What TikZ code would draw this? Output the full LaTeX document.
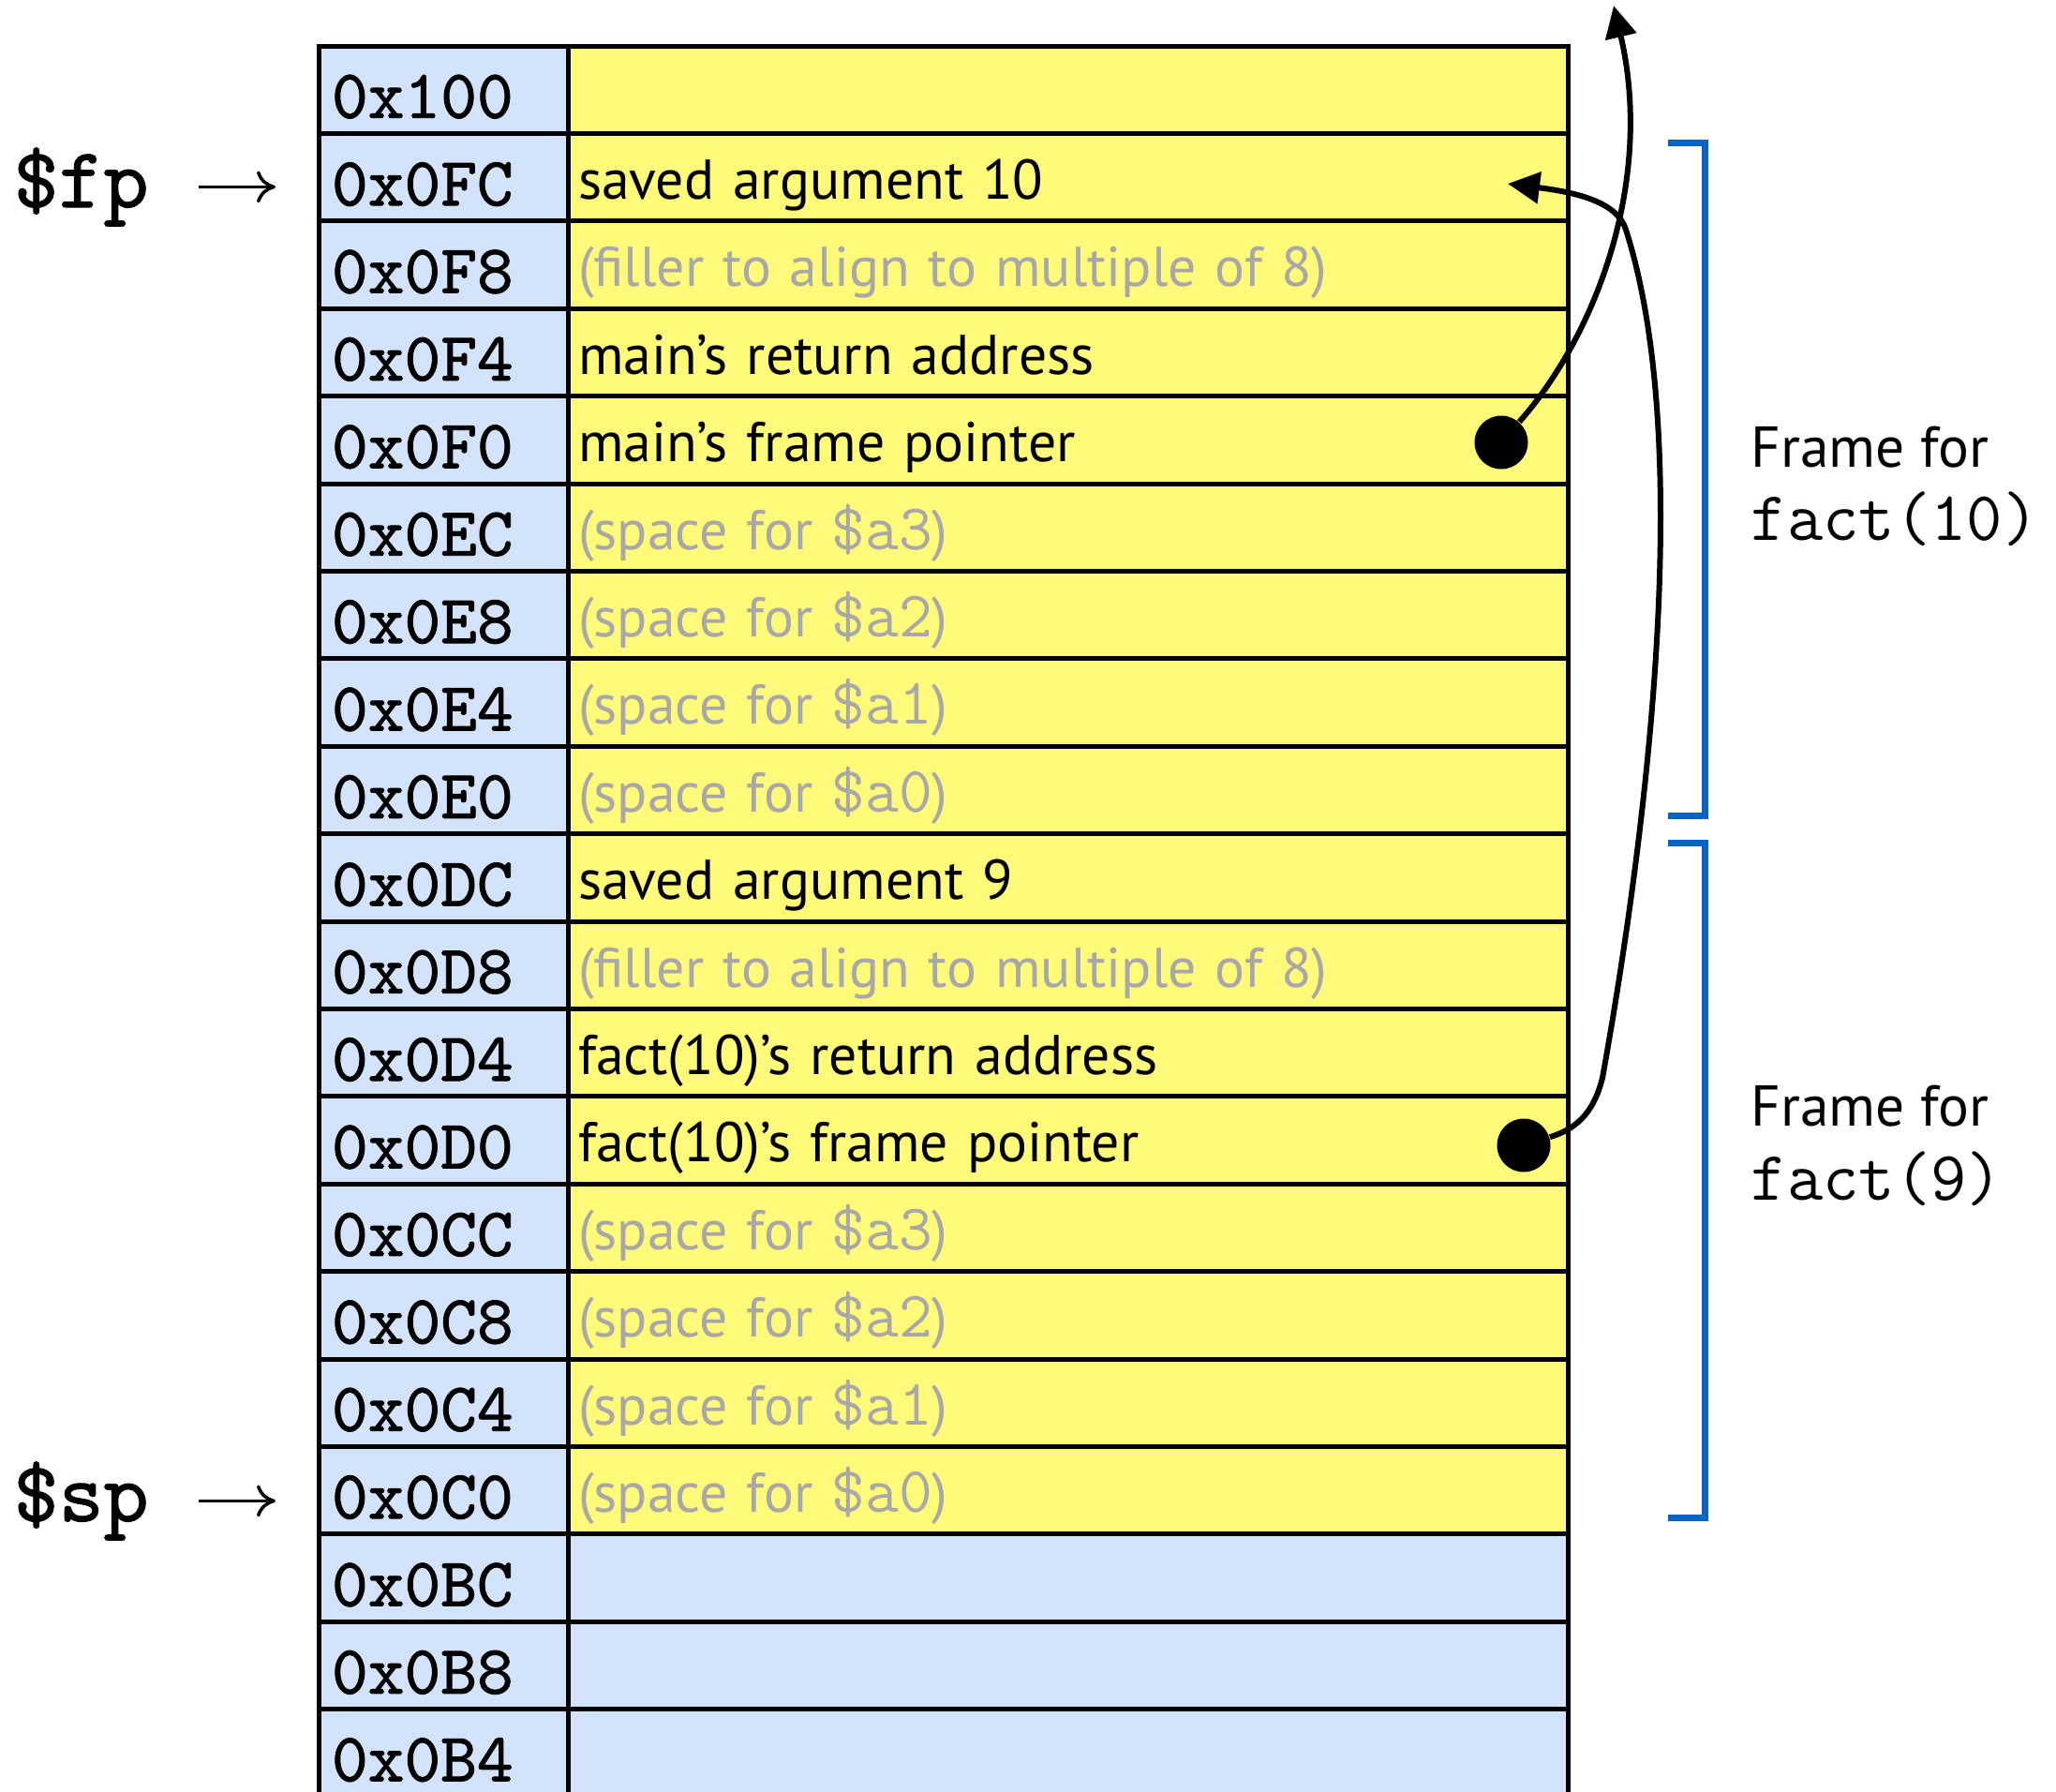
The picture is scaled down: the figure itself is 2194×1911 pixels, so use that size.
\documentclass[tikz,border=0pt]{standalone}
\usepackage{fontspec}
\setmainfont{PT Sans}
\newfontfamily\addrfont{lmmono10-regular}[Extension=.otf,FakeBold=1.2]
\newcommand\argreg[1]{{\ttfamily\fontsize{19.8pt}{21pt}\selectfont\$#1}}
\usetikzlibrary{positioning,arrows.meta}

\definecolor{stackyellow}{RGB}{255,250,122}
\definecolor{stackblue}{RGB}{211,227,252}
\definecolor{fillgrey}{RGB}{168,168,168}
\definecolor{framebrace}{RGB}{8,100,194}

\begin{document}
\begin{tikzpicture}[x=0.1mm,y=-0.1mm,>={Triangle[length=3.4mm,width=3.3mm]}]
  \tikzstyle{addr}=[draw=black,line width=0.5mm,fill=stackblue,outer sep=0pt,anchor=north west,
    minimum height=9.34mm,text width=23.8mm,inner xsep=1.4mm,align=left,text height=6mm,text depth=0pt,
    font=\addrfont\fontsize{21pt}{24pt}\selectfont]
  \tikzstyle{cell}=[draw=black,line width=0.5mm,outer sep=0pt,minimum height=9.34mm,text width=104.5mm,
    inner xsep=1.1mm,align=left,text height=4.66mm,text depth=0pt,font=\fontsize{17pt}{21pt}\selectfont]
  \tikzstyle{word}=[fill=stackyellow]
  \tikzstyle{spare}=[fill=stackyellow,text=fillgrey]
  \tikzstyle{unused}=[fill=stackblue]
  \tikzstyle{dot}=[circle,fill=black,minimum size=5.7mm,inner sep=0pt]
  \tikzstyle{link}=[->,line width=0.6mm]
  \tikzstyle{reg}=[font=\addrfont\fontsize{26pt}{30pt}\selectfont,inner sep=0pt,anchor=base west]
  \tikzstyle{regptr}=[-{Computer Modern Rightarrow[length=2mm,width=3.4mm]},line width=0.35mm,
    shorten <=5.3mm,shorten >=4.6mm]
  \tikzstyle{brace}=[draw=framebrace,line width=0.7mm]
  \tikzstyle{framelbl}=[inner sep=0pt,anchor=base west,font=\fontsize{17.5pt}{21pt}\selectfont]
  \tikzstyle{framecall}=[inner sep=0pt,anchor=base west,font=\ttfamily\fontsize{21.2pt}{24pt}\selectfont]

  \useasboundingbox (0,0) rectangle (2194,1911);

  \foreach \i/\adr/\kind/\txt in {
    0/0x100/word/{},
    1/0x0FC/word/{saved argument 10},
    2/0x0F8/spare/{(filler to align to multiple of 8)},
    3/0x0F4/word/{main’s return address},
    4/0x0F0/word/{main’s frame pointer},
    5/0x0EC/spare/{(space for \argreg{a3})},
    6/0x0E8/spare/{(space for \argreg{a2})},
    7/0x0E4/spare/{(space for \argreg{a1})},
    8/0x0E0/spare/{(space for \argreg{a0})},
    9/0x0DC/word/{saved argument 9},
    10/0x0D8/spare/{(filler to align to multiple of 8)},
    11/0x0D4/word/{fact(10)’s return address},
    12/0x0D0/word/{fact(10)’s frame pointer},
    13/0x0CC/spare/{(space for \argreg{a3})},
    14/0x0C8/spare/{(space for \argreg{a2})},
    15/0x0C4/spare/{(space for \argreg{a1})},
    16/0x0C0/spare/{(space for \argreg{a0})},
    17/0x0BC/unused/{},
    18/0x0B8/unused/{},
    19/0x0B4/unused/{}}{
    \node[addr] (a\i) at (340,49+93.4*\i) {\adr};
    \node[cell,\kind,right=0pt of a\i] (c\i) {\txt};
  }

  \node[reg] (fp) at (14,221) {\$fp};
  \node[reg] (sp) at (14,1623) {\$sp};
  \draw[regptr] (fp.east) -- (fp.east -| a1.west);
  \draw[regptr] (sp.east) -- (sp.east -| a16.west);

  \draw[brace] (1780,152) -- (1819,152) -- (1819,870) -- (1780,870);
  \draw[brace] (1780,899) -- (1819,899) -- (1819,1619) -- (1780,1619);
  \node[framelbl] (frame10) at (1868,498) {Frame for};
  \node[framecall] (call10) at (1868,576) {fact(10)};
  \node[framelbl] (frame9) at (1868,1201) {Frame for};
  \node[framecall] (call9) at (1868,1280) {fact(9)};

  \node[dot] (d1) at (1602,472) {};
  \node[dot] (d2) at (1626,1222) {};
  \coordinate (up) at (1722,6);
  \coordinate (fpsave) at (1609,196);
  \draw[link] (d1) .. controls (1705,355) and (1765,190) .. (up);
  \draw[link] (d2) .. controls (1680,1205) and (1700,1190) .. (1710,1150)
    .. controls (1755,900) and (1810,480) .. (1735,245)
    .. controls (1726,215) and (1680,205) .. (fpsave);
\end{tikzpicture}
\end{document}
